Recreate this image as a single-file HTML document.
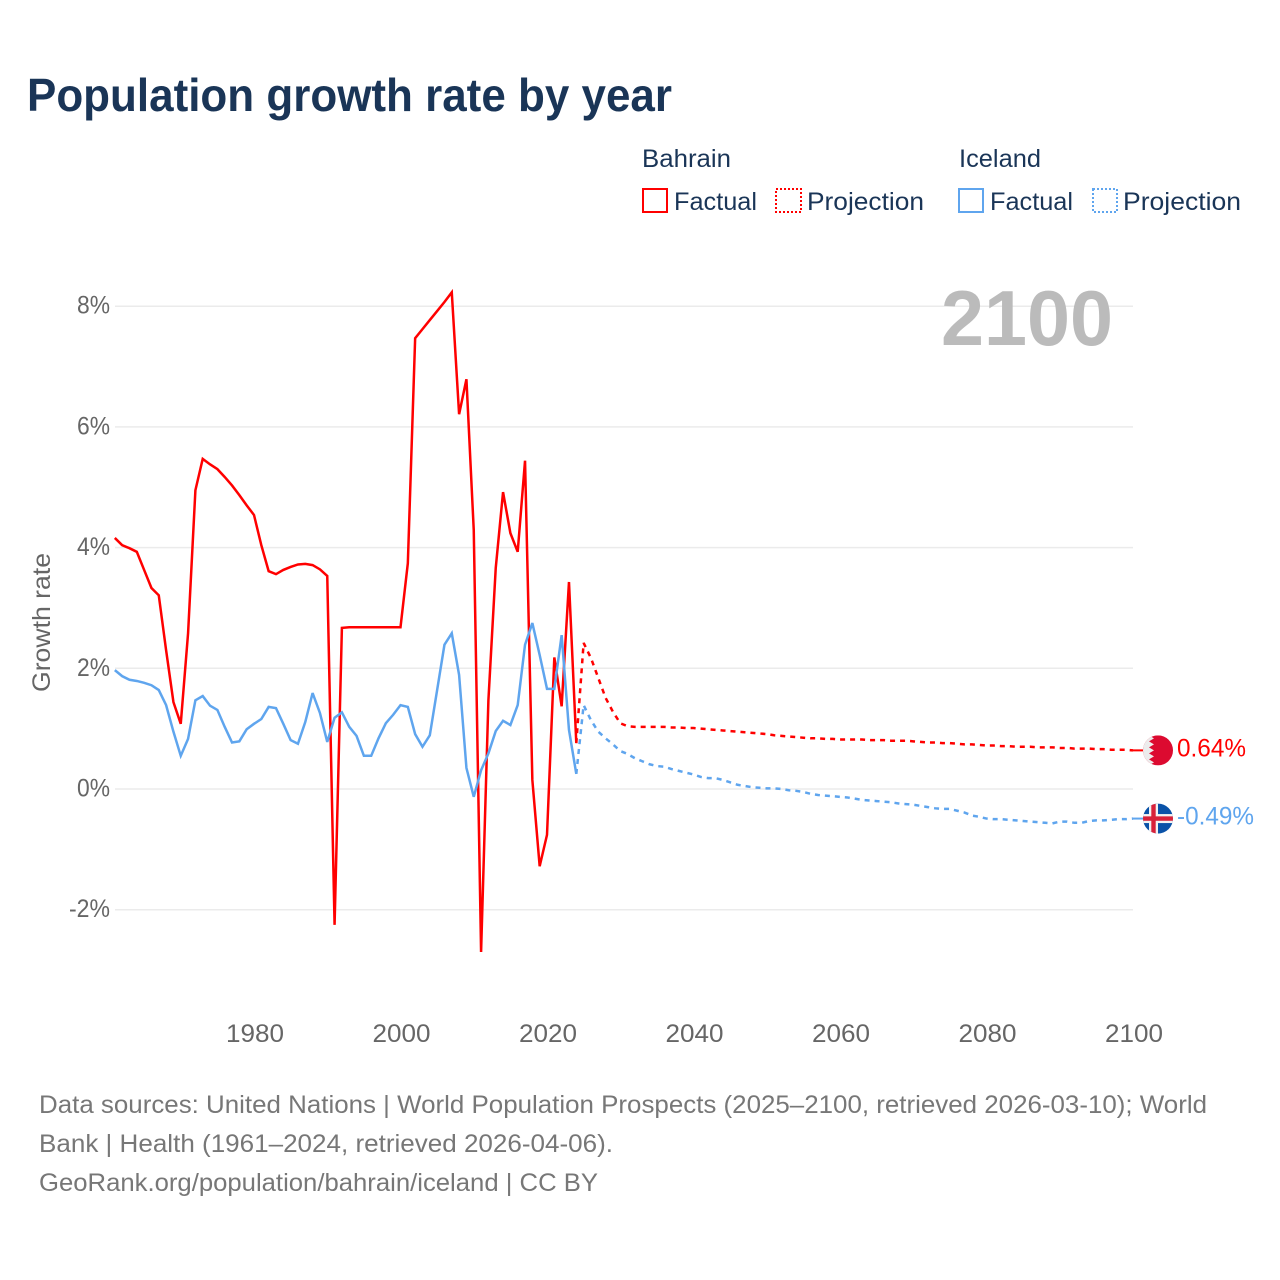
<!DOCTYPE html>
<html lang="en">
<head>
<meta charset="utf-8">
<title>Population growth rate by year</title>
<style>
html,body{margin:0;padding:0;background:#fff;width:1280px;height:1280px;overflow:hidden}
svg{display:block}
text{font-family:"Liberation Sans",sans-serif}
</style>
</head>
<body>
<svg id="chart" width="1280" height="1280" viewBox="0 0 1280 1280" xmlns="http://www.w3.org/2000/svg">
  <defs>
    <clipPath id="flag-clip"><circle cx="0" cy="0" r="15"/></clipPath>
  </defs>
  <text x="27" y="111" font-size="46" font-weight="700" fill="#1a3557" textLength="645" lengthAdjust="spacingAndGlyphs">Population growth rate by year</text>

  <g>
    <text x="642" y="167" font-size="25" fill="#1a3557" textLength="89" lengthAdjust="spacingAndGlyphs">Bahrain</text>
    <text x="959" y="167" font-size="25" fill="#1a3557" textLength="82" lengthAdjust="spacingAndGlyphs">Iceland</text>
    <rect x="643" y="189" width="24" height="23" fill="none" stroke="#ff0000" stroke-width="2"/>
    <text x="674" y="210" font-size="25" fill="#1a3557" textLength="83" lengthAdjust="spacingAndGlyphs">Factual</text>
    <rect x="776" y="189" width="25" height="23" fill="none" stroke="#ff0000" stroke-width="2" stroke-dasharray="2 2"/>
    <text x="807" y="210" font-size="25" fill="#1a3557" textLength="117" lengthAdjust="spacingAndGlyphs">Projection</text>
    <rect x="959" y="189" width="24" height="23" fill="none" stroke="#5fa5ee" stroke-width="2"/>
    <text x="990" y="210" font-size="25" fill="#1a3557" textLength="83" lengthAdjust="spacingAndGlyphs">Factual</text>
    <rect x="1093" y="189" width="24" height="23" fill="none" stroke="#5fa5ee" stroke-width="2" stroke-dasharray="2 2"/>
    <text x="1123" y="210" font-size="25" fill="#1a3557" textLength="118" lengthAdjust="spacingAndGlyphs">Projection</text>
  </g>

  <g id="grid"></g>
  <g id="y-ticks"></g>
  <g id="x-ticks"></g>
  <text x="0" y="0" transform="translate(50,622.5) rotate(-90)" text-anchor="middle" font-size="25" fill="#666666" textLength="139" lengthAdjust="spacingAndGlyphs">Growth rate</text>
  <text x="1113" y="345" text-anchor="end" font-size="78" font-weight="700" fill="#bbbbbb" textLength="172" lengthAdjust="spacingAndGlyphs">2100</text>
  <g id="series"></g>

  <g id="flag-bahrain">
    <g clip-path="url(#flag-clip)">
      <rect x="-15" y="-15" width="30" height="30" fill="#dc0a30"/>
      <polygon points="-15,-15 -9,-15 -4,-12 -9,-9 -4,-6 -9,-3 -4,0 -9,3 -4,6 -9,9 -4,12 -9,15 -15,15" fill="#ececec"/>
    </g>
  </g>
  <g id="flag-iceland">
    <g clip-path="url(#flag-clip)">
      <rect x="-15" y="-15" width="30" height="30" fill="#0a52a8"/>
      <rect x="-15" y="-4.5" width="30" height="9" fill="#f2f2f2"/>
      <rect x="-9" y="-15" width="9" height="30" fill="#f2f2f2"/>
      <rect x="-15" y="-2.2" width="30" height="4.4" fill="#d8213a"/>
      <rect x="-6.7" y="-15" width="4.4" height="30" fill="#d8213a"/>
    </g>
  </g>
  <text id="label-bahrain" x="1177" font-size="25" fill="#ff0000" textLength="69" lengthAdjust="spacingAndGlyphs"></text>
  <text id="label-iceland" x="1177" font-size="25" fill="#5fa5ee" textLength="77" lengthAdjust="spacingAndGlyphs"></text>

  <g>
    <text x="39" y="1113" font-size="25" fill="#777777" textLength="1168" lengthAdjust="spacingAndGlyphs">Data sources: United Nations | World Population Prospects (2025–2100, retrieved 2026-03-10); World</text>
    <text x="39" y="1152" font-size="25" fill="#777777" textLength="574" lengthAdjust="spacingAndGlyphs">Bank | Health (1961–2024, retrieved 2026-04-06).</text>
    <text x="39" y="1191" font-size="25" fill="#777777" textLength="559" lengthAdjust="spacingAndGlyphs">GeoRank.org/population/bahrain/iceland | CC BY</text>
  </g>
</svg>
<script>
const factualStartYear = 1961;
const projectionStartYear = 2024;
const yTickValues = [-2, 0, 2, 4, 6, 8];
const xTickValues = [1980, 2000, 2020, 2040, 2060, 2080, 2100];
const bahrainFactual = [4.16,4.04,3.99,3.93,3.63,3.33,3.21,2.30,1.44,1.08,2.58,4.95,5.47,5.38,5.30,5.17,5.03,4.87,4.70,4.54,4.04,3.61,3.56,3.63,3.68,3.72,3.73,3.71,3.64,3.53,-2.25,2.67,2.68,2.68,2.68,2.68,2.68,2.68,2.68,2.68,3.74,7.47,7.62,7.77,7.92,8.07,8.23,6.21,6.79,4.29,-2.70,1.47,3.66,4.92,4.24,3.93,5.44,0.15,-1.28,-0.76,2.18,1.37,3.43,0.76];
const icelandFactual = [1.97,1.87,1.81,1.79,1.76,1.72,1.64,1.39,0.95,0.55,0.83,1.47,1.54,1.38,1.31,1.03,0.77,0.79,0.99,1.08,1.16,1.36,1.34,1.08,0.81,0.75,1.11,1.59,1.26,0.78,1.18,1.27,1.03,0.88,0.55,0.55,0.84,1.09,1.23,1.39,1.36,0.91,0.70,0.89,1.64,2.39,2.58,1.89,0.35,-0.13,0.31,0.59,0.96,1.13,1.06,1.39,2.39,2.75,2.22,1.66,1.66,2.55,0.98,0.25];
const bahrainProjection = [0.76,2.42,2.17,1.84,1.51,1.28,1.09,1.04,1.03,1.03,1.03,1.03,1.03,1.02,1.02,1.01,1.01,1.00,0.99,0.98,0.97,0.96,0.95,0.94,0.93,0.92,0.91,0.89,0.88,0.87,0.86,0.85,0.84,0.84,0.83,0.83,0.82,0.82,0.82,0.82,0.81,0.81,0.81,0.80,0.80,0.80,0.79,0.78,0.77,0.77,0.76,0.76,0.75,0.74,0.74,0.73,0.72,0.72,0.71,0.71,0.70,0.70,0.70,0.69,0.69,0.69,0.68,0.68,0.67,0.67,0.67,0.66,0.66,0.65,0.65,0.65,0.64];
const icelandProjection = [0.25,1.39,1.14,0.95,0.84,0.74,0.63,0.58,0.51,0.46,0.41,0.38,0.37,0.33,0.30,0.27,0.24,0.20,0.18,0.18,0.15,0.11,0.07,0.05,0.03,0.02,0.01,0.01,0.00,-0.02,-0.03,-0.05,-0.08,-0.10,-0.11,-0.12,-0.13,-0.14,-0.16,-0.18,-0.19,-0.20,-0.21,-0.22,-0.24,-0.25,-0.26,-0.28,-0.30,-0.32,-0.33,-0.33,-0.36,-0.39,-0.44,-0.46,-0.49,-0.50,-0.50,-0.51,-0.52,-0.53,-0.54,-0.55,-0.56,-0.57,-0.54,-0.54,-0.56,-0.56,-0.53,-0.52,-0.52,-0.51,-0.50,-0.50,-0.49];

const SVGNS = 'http://www.w3.org/2000/svg';
function xScale(year) { return 254 + (year - 1980) * 7.325; }
function yScale(value) { return 789 - value * 60.35; }
function pointsFor(values, startYear) {
  return values.map(function (v, i) {
    return xScale(startYear + i).toFixed(2) + ',' + yScale(v).toFixed(2);
  }).join(' ');
}
function make(tag, attrs, parent) {
  const el = document.createElementNS(SVGNS, tag);
  Object.keys(attrs).forEach(function (k) { el.setAttribute(k, attrs[k]); });
  parent.appendChild(el);
  return el;
}

const gridGroup = document.getElementById('grid');
const yGroup = document.getElementById('y-ticks');
yTickValues.forEach(function (v) {
  const line = make('line', {x1: 115, x2: 1133, y1: yScale(v), y2: yScale(v), stroke: '#ebebeb', 'stroke-width': 1.5}, gridGroup);
  
  
  const label = make('text', {x: 110, y: yScale(v) + 7.5, 'text-anchor': 'end', 'font-size': 25, fill: '#666666', textLength: v < 0 ? 41 : 33, lengthAdjust: 'spacingAndGlyphs'}, yGroup);
  
  
  label.textContent = v + '%';
});

const xGroup = document.getElementById('x-ticks');
xTickValues.forEach(function (year) {
  const label = make('text', {x: xScale(year) + 1, y: 1042, 'text-anchor': 'middle', 'font-size': 25, fill: '#666666', textLength: 58, lengthAdjust: 'spacingAndGlyphs'}, xGroup);
  
  
  label.textContent = year;
});

const seriesGroup = document.getElementById('series');
const lineBase = {fill: 'none', 'stroke-width': 2.5, 'stroke-linejoin': 'miter', 'stroke-miterlimit': 3};
function drawLine(values, startYear, color, dashed) {
  const attrs = Object.assign({}, lineBase, {points: pointsFor(values, startYear), stroke: color});
  if (dashed) { attrs['stroke-dasharray'] = '5 5'; }
  return make('polyline', attrs, seriesGroup);
}
const bahrainFactualLine = drawLine(bahrainFactual, factualStartYear, '#ff0000', false);


const bahrainProjectionLine = drawLine(bahrainProjection, projectionStartYear, '#ff0000', true);


const icelandFactualLine = drawLine(icelandFactual, factualStartYear, '#5fa5ee', false);


const icelandProjectionLine = drawLine(icelandProjection, projectionStartYear, '#5fa5ee', true);



function placeEnd(values, color, flagId, labelId, leaderName) {
  const last = values[values.length - 1];
  const y = yScale(last);
  const leader = make('line', {x1: xScale(2100), x2: 1146, y1: y, y2: y, stroke: color, 'stroke-width': 2}, seriesGroup);
  
  
  document.getElementById(flagId).setAttribute('transform', 'translate(1158,' + y.toFixed(2) + ')');
  const label = document.getElementById(labelId);
  label.setAttribute('y', (y + 6).toFixed(2));
  label.textContent = last.toFixed(2) + '%';
}
placeEnd(bahrainProjection, '#ff0000', 'flag-bahrain', 'label-bahrain', 'leader-bahrain');
placeEnd(icelandProjection, '#5fa5ee', 'flag-iceland', 'label-iceland', 'leader-iceland');
</script>
</body>
</html>
